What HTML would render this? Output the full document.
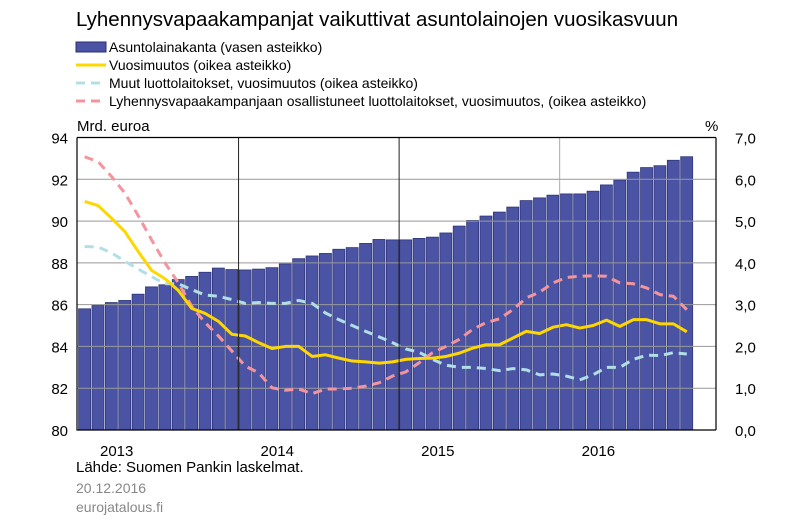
<!DOCTYPE html>
<html><head><meta charset="utf-8"><style>
body{margin:0;background:#fff;}
svg text{font-family:"Liberation Sans",Arial,sans-serif;}
</style></head><body>
<svg id="chart" width="800" height="522" viewBox="0 0 800 522" xmlns="http://www.w3.org/2000/svg">
<text x="76" y="26" font-size="20.5" fill="#000">Lyhennysvapaakampanjat vaikuttivat asuntolainojen vuosikasvuun</text>
<g font-size="14">
  <g><rect x="76" y="42" width="30" height="10" fill="#4B53A5" stroke="#2a2f70"/><text x="109" y="52">Asuntolainakanta (vasen asteikko)</text></g>
  <g><line x1="76" y1="65" x2="106" y2="65" stroke="#FFD700" stroke-width="3"/><text x="109" y="70">Vuosimuutos (oikea asteikko)</text></g>
  <g><line x1="76" y1="83" x2="106" y2="83" stroke="#B0E0E6" stroke-width="3" stroke-dasharray="9,6"/><text x="109" y="88">Muut luottolaitokset, vuosimuutos (oikea asteikko)</text></g>
  <g><line x1="76" y1="101" x2="106" y2="101" stroke="#F4949C" stroke-width="3" stroke-dasharray="9,6"/><text x="109" y="106">Lyhennysvapaakampanjaan osallistuneet luottolaitokset, vuosimuutos, (oikea asteikko)</text></g>
</g>
<text x="77" y="131" font-size="15">Mrd. euroa</text>
<text x="705" y="131" font-size="15">%</text>
<g id="grid"></g>
<g id="bars"></g>
<g id="lines"></g>
<g id="axes"></g>
<text x="76" y="472" font-size="15">Lähde: Suomen Pankin laskelmat.</text>
<text x="76" y="493" font-size="14" fill="#888">20.12.2016</text>
<text x="76" y="512" font-size="14" fill="#888">eurojatalous.fi</text>
</svg>
<script>
const years = ["2013","2014","2015","2016"];
const leftTicks = [80,82,84,86,88,90,92,94];
const rightTicks = ["0,0","1,0","2,0","3,0","4,0","5,0","6,0","7,0"];
const loanStock = [85.8,85.96,86.1,86.2,86.5,86.85,86.95,87.2,87.35,87.55,87.75,87.68,87.66,87.7,87.77,87.95,88.2,88.33,88.45,88.65,88.73,88.93,89.12,89.1,89.1,89.17,89.23,89.43,89.76,90.03,90.24,90.43,90.67,90.98,91.11,91.24,91.3,91.3,91.43,91.73,91.96,92.34,92.56,92.65,92.91,93.08];
const yearlyChange = [5.47,5.37,5.07,4.75,4.27,3.82,3.62,3.34,2.91,2.79,2.6,2.29,2.25,2.09,1.95,2.0,2.0,1.76,1.8,1.72,1.65,1.63,1.6,1.63,1.69,1.71,1.72,1.76,1.84,1.96,2.04,2.04,2.2,2.36,2.31,2.46,2.52,2.44,2.5,2.63,2.48,2.64,2.64,2.54,2.54,2.35];
const otherInst = [4.39,4.38,4.24,4.04,3.85,3.67,3.5,3.5,3.36,3.23,3.2,3.12,3.03,3.05,3.03,3.03,3.1,3.03,2.8,2.64,2.5,2.36,2.23,2.09,1.94,1.86,1.69,1.55,1.5,1.5,1.47,1.42,1.47,1.44,1.32,1.34,1.29,1.2,1.32,1.5,1.5,1.69,1.79,1.78,1.85,1.82];
const campaignInst = [6.54,6.42,6.07,5.67,5.13,4.55,4.0,3.52,2.96,2.57,2.25,1.89,1.53,1.37,1.01,0.95,0.98,0.87,0.98,0.98,1.0,1.05,1.13,1.29,1.39,1.61,1.85,2.0,2.17,2.41,2.57,2.66,2.88,3.16,3.3,3.52,3.65,3.68,3.69,3.68,3.52,3.5,3.4,3.24,3.2,2.88];

const NS="http://www.w3.org/2000/svg";
const X0=77, X1=716, Y0=137.5, Y1=430, STEP=13.38, BX=78;
const yL=v=>Y1-(v-80)/14*(Y1-Y0);
const yR=v=>Y1-v/7*(Y1-Y0);
const xC=i=>BX+STEP*i+STEP/2;
function mk(tag,attrs,parent){const e=document.createElementNS(NS,tag);for(const k in attrs)e.setAttribute(k,attrs[k]);parent.appendChild(e);return e;}
const grid=document.getElementById('grid'),bars=document.getElementById('bars'),lines=document.getElementById('lines'),axes=document.getElementById('axes');
leftTicks.forEach((t,i)=>{
  const y=yL(t);
  const l=mk('line',{x1:X0,x2:X1,y1:y,y2:y,stroke:'#999','stroke-width':1},grid);
  
  
  const tl=mk('text',{x:68,y:y+6,'text-anchor':'end','font-size':15},axes);tl.textContent=t;
  
  
  const tr=mk('text',{x:735,y:y+6,'font-size':15},axes);tr.textContent=rightTicks[i];
  
  
});
years.forEach((yr,i)=>{
  const x=BX+STEP*12*i;
  if(i>0){const v=mk('line',{x1:x,x2:x,y1:Y0,y2:Y1,stroke:i==3?'#aaa':'#222','stroke-width':1},axes);
    
    }
  const t=mk('text',{x:x+22,y:456,'font-size':15},axes);t.textContent=yr;
  
  
});
loanStock.forEach((v,i)=>{
  const y=yL(v);
  const r=mk('rect',{x:BX+STEP*i+0.6,y:y,width:STEP-1.4,height:Y1-y,fill:'#4B53A5',stroke:'#2f3578','stroke-width':0.8},bars);
  
  
});
bars.parentNode.insertBefore(bars,grid); // bars under grid lines
grid.parentNode.insertBefore(grid,bars.nextSibling);
function line(data,color,dash,name){
  const p=mk('polyline',{points:data.map((v,i)=>xC(i)+','+yR(v)).join(' '),fill:'none',stroke:color,'stroke-width':3,'stroke-dasharray':dash,'stroke-linejoin':'round'},lines);
  
  
}
line(otherInst,'#B0E0E6','9,6','other-institutions-line');
line(campaignInst,'#F4949C','9,6','campaign-institutions-line');
line(yearlyChange,'#FFD700','none','yearly-change-line');
const frame=mk('path',{d:`M${X0},${Y0} L${X1},${Y0} M${X0},${Y0} L${X0},${Y1} L${X1},${Y1} M${X1},${Y0} L${X1},${Y1}`,stroke:'#000','stroke-width':1.2,fill:'none'},axes);


</script>
</body></html>
